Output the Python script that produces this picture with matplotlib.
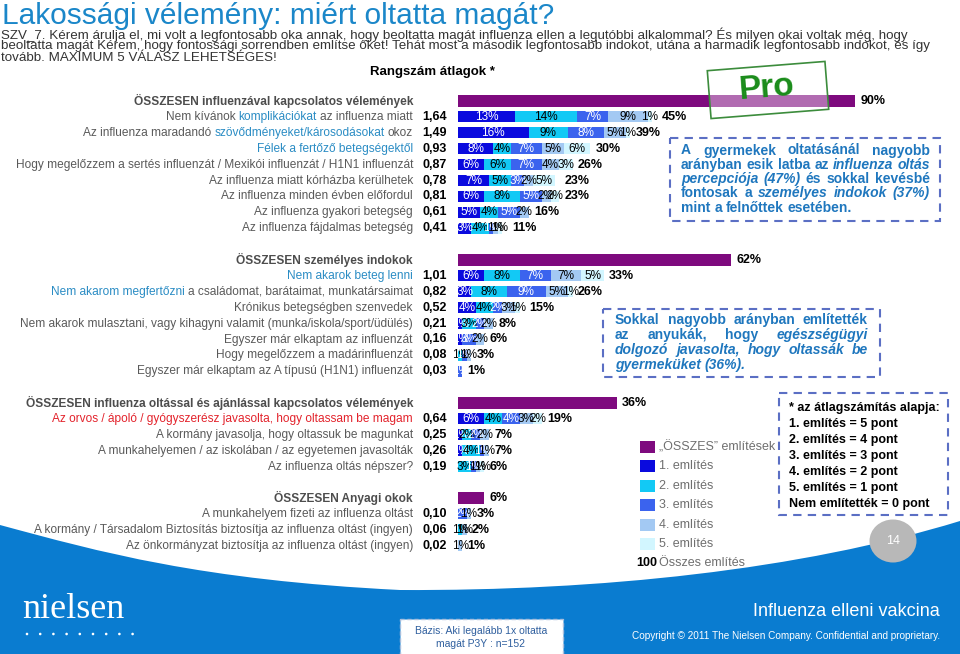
import matplotlib
matplotlib.use('Agg')
import matplotlib.pyplot as plt
from matplotlib.patches import Rectangle, Polygon, PathPatch, Ellipse
from matplotlib.path import Path
import numpy as np

plt.rcParams['font.family'] = ['Liberation Sans', 'DejaVu Sans']

W, H = 960, 654

# ---- data ----
s1_head = 'ÖSSZESEN influenzával kapcsolatos vélemények'
s1_all = 90
s1_items = [
    [('Nem kívánok', 'g'), ('komplikációkat', 'b'), ('az influenza miatt', 'g')],
    [('Az influenza maradandó', 'g'), ('szövődményeket/károsodásokat', 'b'), ('okoz', 'g')],
    [('Félek a fertőző betegségektől', 'b')],
    [('Hogy megelőzzem a sertés influenzát / Mexikói influenzát / H1N1 influenzát', 'g')],
    [('Az influenza miatt kórházba kerülhetek', 'g')],
    [('Az influenza minden évben előfordul', 'g')],
    [('Az influenza gyakori betegség', 'g')],
    [('Az influenza fájdalmas betegség', 'g')],
]
s1_rank = [1.64, 1.49, 0.93, 0.87, 0.78, 0.81, 0.61, 0.41]
s1_ment = [[13, 14, 7, 9, 1], [16, 9, 8, 5, 1], [8, 4, 7, 5, 6], [6, 6, 7, 4, 3],
           [7, 5, 3, 2, 5], [6, 8, 5, 2, 2], [5, 4, 5, 2, 0], [3, 4, 1, 1, 1]]
s1_total = [45, 39, 30, 26, 23, 23, 16, 11]

s2_head = 'ÖSSZESEN személyes indokok'
s2_all = 62
s2_items = [
    [('Nem akarok beteg lenni', 'b')],
    [('Nem akarom megfertőzni', 'b'), ('a családomat, barátaimat, munkatársaimat', 'g')],
    [('Krónikus betegségben szenvedek', 'g')],
    [('Nem akarok mulasztani, vagy kihagyni valamit (munka/iskola/sport/üdülés)', 'g')],
    [('Egyszer már elkaptam az influenzát', 'g')],
    [('Hogy megelőzzem a madárinfluenzát', 'g')],
    [('Egyszer már elkaptam az A típusú (H1N1) influenzát', 'g')],
]
s2_rank = [1.01, 0.82, 0.52, 0.21, 0.16, 0.08, 0.03]
s2_ment = [[6, 8, 7, 7, 5], [3, 8, 9, 5, 1], [4, 4, 2, 3, 1], [1, 3, 2, 2, 0],
           [1, 0, 3, 2, 0], [0, 1, 1, 1, 0], [0, 0, 1, 0, 0]]
s2_total = [33, 26, 15, 8, 6, 3, 1]

s3_head = 'ÖSSZESEN influenza oltással és ajánlással kapcsolatos vélemények'
s3_all = 36
s3_items = [
    [('Az orvos / ápoló / gyógyszerész javasolta, hogy oltassam be magam', 'r')],
    [('A kormány javasolja, hogy oltassuk be magunkat', 'g')],
    [('A munkahelyemen / az iskolában / az egyetemen javasolták', 'g')],
    [('Az influenza oltás népszer?', 'g')],
]
s3_rank = [0.64, 0.25, 0.26, 0.19]
s3_ment = [[6, 4, 4, 3, 2], [1, 2, 2, 2, 0], [1, 4, 1, 1, 0], [0, 3, 1, 1, 1]]
s3_total = [19, 7, 7, 6]

s4_head = 'ÖSSZESEN Anyagi okok'
s4_all = 6
s4_items = [
    [('A munkahelyem fizeti az influenza oltást', 'g')],
    [('A kormány / Társadalom Biztosítás biztosítja az influenza oltást (ingyen)', 'g')],
    [('Az önkormányzat biztosítja az influenza oltást (ingyen)', 'g')],
]
s4_rank = [0.10, 0.06, 0.02]
s4_ment = [[0, 0, 2, 1, 0], [0, 1, 0, 1, 0], [0, 0, 0, 1, 0]]
s4_total = [3, 2, 1]

legend_labels = ['„ÖSSZES” említések', '1. említés', '2. említés', '3. említés',
                 '4. említés', '5. említés']
note_lines = ['* az átlagszámítás alapja:', '1. említés = 5 pont', '2. említés = 4 pont',
              '3. említés = 3 pont', '4. említés = 2 pont', '5. említés = 1 pont',
              'Nem említették = 0 pont']

title = 'Lakossági vélemény: miért oltatta magát?'
subtitle = ['SZV_7. Kérem árulja el, mi volt a legfontosabb oka annak, hogy beoltatta magát influenza ellen a legutóbbi alkalommal? És milyen okai voltak még, hogy',
            'beoltatta magát Kérem, hogy fontossági sorrendben említse őket! Tehát most a második legfontosabb indokot, utána a harmadik legfontosabb indokot, és így',
            'tovább. MAXIMUM 5 VÁLASZ LEHETSÉGES!']

box1 = ['A gyermekek oltatásánál nagyobb',
        'arányban esik latba az *influenza oltás*',
        '*percepciója (47%)* és sokkal kevésbé',
        'fontosak a *személyes indokok (37%)*',
        'mint a felnőttek esetében.']
box2 = ['Sokkal nagyobb arányban említették',
        'az anyukák, hogy *egészségügyi*',
        '*dolgozó javasolta, hogy oltassák be*',
        '*gyermeküket (36%).*']

# ---- styles ----
GRAY = '#5a5a5a'
TXT = {'g': GRAY, 'b': '#2a8cc4', 'r': '#e3232c'}
PURPLE = '#7e0a7e'
MCOL = ['#0a0ade', '#12c9f5', '#3b63ee', '#a3c9f3', '#d2f6ff']
MTXT = ['white', 'black', 'white', 'black', 'black']
BOXBLUE = '#1f77be'
DASH = '#5b6fc4'
LBL = 8.6

fig = plt.figure(figsize=(9.6, 6.54), dpi=100, facecolor='white')
PX = 4.41       # pixels per percent
XB = 458        # bar origin (pixels)
bax = fig.add_axes([XB / W, 0, 1 - XB / W, 1])
bax.set_xlim(0, (W - XB) / PX)
bax.set_ylim(H, 0)
bax.axis('off')
ov = fig.add_axes([0, 0, 1, 1])
ov.set_xlim(0, W)
ov.set_ylim(H, 0)
ov.axis('off')
ov.patch.set_visible(False)
R = fig.canvas.get_renderer()


def tw(s, **kw):
    t = ov.text(0, 0, s, **kw)
    w = t.get_window_extent(renderer=R).width
    t.remove()
    return w


def rich_right(xr, y, pieces, size=LBL):
    sp = tw('| |', fontsize=size) - tw('||', fontsize=size)
    ws = [tw(p, fontsize=size) for p, c in pieces]
    x = xr - sum(ws) - sp * (len(pieces) - 1)
    for (p, c), w in zip(pieces, ws):
        ov.text(x, y, p, color=TXT[c], fontsize=size, ha='left', va='center')
        x += w + sp


def justified(lines, x0, x1, ys, size, color):
    for k, (line, y) in enumerate(zip(lines, ys)):
        words, ital = [], False
        for w in line.split():
            if w.startswith('*'):
                ital, w = True, w[1:]
            end = w.endswith('*')
            words.append((w.rstrip('*'), ital))
            if end:
                ital = False
        kws = [dict(fontsize=size, fontweight='bold',
                    fontstyle='italic' if it else 'normal') for _, it in words]
        ws = [tw(w, **kw) for (w, _), kw in zip(words, kws)]
        sp = tw('| |', fontsize=size, fontweight='bold') - tw('||', fontsize=size, fontweight='bold')
        last = k == len(lines) - 1
        gap = sp if last or len(words) < 2 else (x1 - x0 - sum(ws)) / (len(words) - 1)
        x = x0
        for (w, _), kw, wd in zip(words, kws, ws):
            ov.text(x, y, w, color=color, ha='left', va='center', **kw)
            x += wd + gap


# ---- bars ----
sections = [
    (101, s1_head, s1_all, s1_items, s1_rank, s1_ment, s1_total),
    (260, s2_head, s2_all, s2_items, s2_rank, s2_ment, s2_total),
    (403, s3_head, s3_all, s3_items, s3_rank, s3_ment, s3_total),
    (498, s4_head, s4_all, s4_items, s4_rank, s4_ment, s4_total),
]
STEP = 15.9
for y0, head, allv, items, rank, ment, total in sections:
    ov.text(413, y0, head, ha='right', va='center', fontsize=LBL, fontweight='bold', color='#4d4d4d')
    bax.barh(y0, allv, height=12, color=PURPLE)
    bax.text(allv + 1.2, y0, f'{allv}%', ha='left', va='center', fontsize=9, fontweight='bold')
    for i, (pieces, r, m, t) in enumerate(zip(items, rank, ment, total)):
        y = y0 + STEP * (i + 1)
        rich_right(413, y, pieces)
        ov.text(447, y, f'{r:.2f}'.replace('.', ','), ha='right', va='center',
                fontsize=9, fontweight='bold')
        left = 0
        for j, v in enumerate(m):
            if v > 0:
                bax.barh(y, v, left=left, height=11, color=MCOL[j])
                bax.text(left + v / 2, y, f'{v}%', ha='center', va='center',
                         fontsize=8.5, color=MTXT[j], clip_on=False)
            left += v
        bax.text(max(left, t) + 1.2, y, f'{t}%', ha='left', va='center',
                 fontsize=9, fontweight='bold')

# ---- titles ----
ov.text(2, 24, title, ha='left', va='baseline', fontsize=21.5, color='#1b87c9')
for s, y in zip(subtitle, [35, 46.5, 58]):
    ov.text(1, y, s, ha='left', va='center', fontsize=9.6, color='#333333')
ov.text(432, 72, 'Rangszám átlagok *', ha='center', va='center', fontsize=9.5, fontweight='bold')

# ---- Pro stamp ----
cx, cy, sw, sh, a = 768, 90, 118, 48, np.radians(4.5)
corn = []
for dx, dy in [(-sw / 2, -sh / 2), (sw / 2, -sh / 2), (sw / 2, sh / 2), (-sw / 2, sh / 2)]:
    corn.append((cx + dx * np.cos(a) + dy * np.sin(a), cy - dx * np.sin(a) + dy * np.cos(a)))
ov.add_patch(Polygon(corn, closed=True, facecolor=(1, 1, 1, 0.4), edgecolor='#3c8c3c', lw=1.2))
ov.text(767, 88, 'Pro', ha='center', va='center', fontsize=24, fontweight='bold',
        color='#1a8c1a', rotation=4.5)

# ---- comment boxes ----
ov.add_patch(Rectangle((670, 138), 270, 83, facecolor='white', edgecolor=DASH, lw=1.5,
                       linestyle=(0, (4, 3))))
justified(box1, 681, 930, [150.5, 164.8, 179, 193.3, 207.6], 10, BOXBLUE)
ov.add_patch(Rectangle((603, 309), 277, 68, facecolor='white', edgecolor=DASH, lw=1.5,
                       linestyle=(0, (4, 3))))
justified(box2, 615, 868, [320, 335, 350, 365], 10, BOXBLUE)

# ---- legend ----
for k, (lab, col) in enumerate(zip(legend_labels, [PURPLE] + MCOL)):
    y = 447 + 19.4 * k
    ov.add_patch(Rectangle((640, y - 6), 15, 12, facecolor=col, edgecolor='none'))
    ov.text(659, y, lab, ha='left', va='center', fontsize=9, color='#6f6f6f')
ov.text(636, 563, '100', ha='left', va='center', fontsize=9, fontweight='bold')
ov.text(659, 563, 'Összes említés', ha='left', va='center', fontsize=9, color='#6f6f6f')

ov.add_patch(Rectangle((779, 393), 169, 122, facecolor='white', edgecolor=DASH, lw=1.5,
                       linestyle=(0, (4, 3))))
for k, s in enumerate(note_lines):
    ov.text(789, 408 + 16 * k, s, ha='left', va='center', fontsize=9, fontweight='bold')

# ---- footer ----
verts = [(0, 525), (100, 552), (200, 580), (400, 590), (600, 591), (800, 570), (960, 521),
         (960, 654), (0, 654), (0, 525)]
codes = [Path.MOVETO] + [Path.CURVE4] * 6 + [Path.LINETO, Path.LINETO, Path.CLOSEPOLY]
ov.add_patch(PathPatch(Path(verts, codes), facecolor='#0a7cd0', edgecolor='none'))
ov.add_patch(Ellipse((893, 541), 47, 43, facecolor='#b8b8b8', edgecolor='none'))
ov.text(893, 541, '14', ha='center', va='center', fontsize=9, color='white')

ov.text(22, 610, 'nielsen', ha='left', va='center', fontsize=26, color='white',
        family=['Liberation Serif', 'DejaVu Serif'])
for k in range(9):
    ov.add_patch(Ellipse((27 + 13.2 * k, 634), 2.6, 2.6, facecolor='white', edgecolor='none'))
ov.add_patch(Rectangle((400, 619), 163, 36, facecolor='white', edgecolor='#a9bedc', lw=1,
                       linestyle=(0, (3, 2))))
ov.text(481, 631, 'Bázis: Aki legalább 1x oltatta', ha='center', va='center', fontsize=7.5,
        color='#2f5f9e')
ov.text(481, 644, 'magát P3Y : n=152', ha='center', va='center', fontsize=7.5, color='#2f5f9e')
ov.text(940, 612, 'Influenza elleni vakcina', ha='right', va='center', fontsize=13, color='white')
ov.text(940, 636, 'Copyright © 2011 The Nielsen Company. Confidential and proprietary.',
        ha='right', va='center', fontsize=7.2, color='white')

fig.savefig('out.png', dpi=100, facecolor='white')
